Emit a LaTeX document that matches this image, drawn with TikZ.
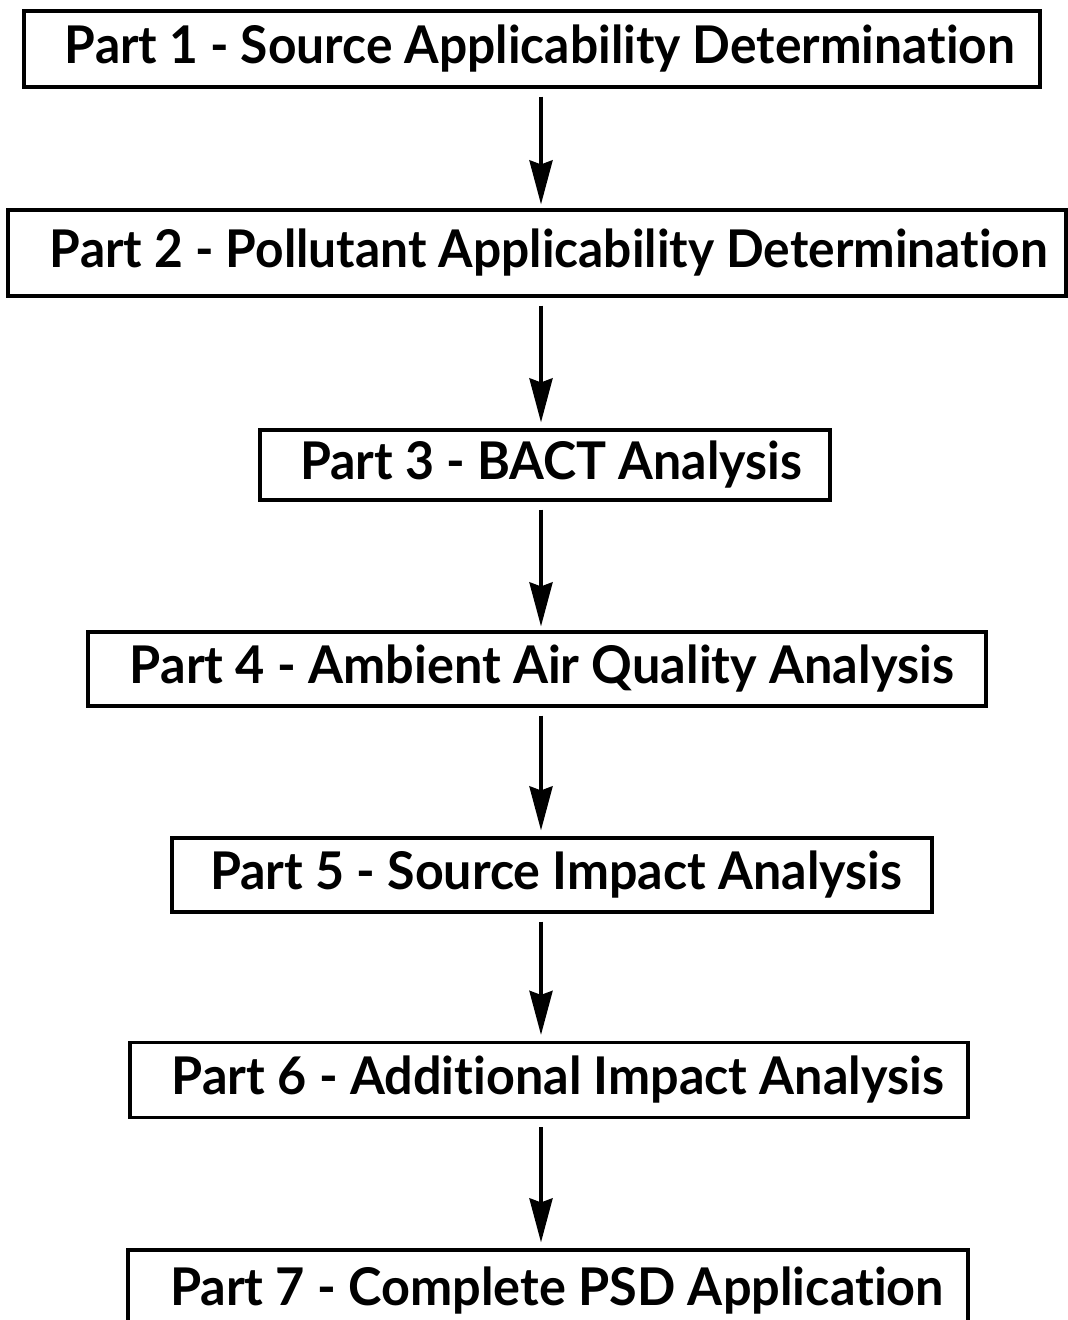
\documentclass[tikz,border=0pt]{standalone}
\usepackage{fontspec}
\setmainfont{Lato}[Ligatures=NoCommon]
\usepackage{graphicx}
\usetikzlibrary{arrows.meta}
\tikzset{
  partbox/.style={draw, line width=1.6pt, rectangle, inner sep=0pt, font=\fontsize{26}{29}\selectfont\bfseries},
  flowarrow/.style={line width=1.9pt, -{Stealth[length=22pt,width=11.5pt,inset=2pt]}}
}
\newcommand{\fitw}[2]{\resizebox{#1pt}{\height}{#2}}
\begin{document}
\begin{tikzpicture}[x=0.5pt,y=-0.5pt]
\clip (0,0) rectangle (1068,1320);
\node[partbox, minimum width=508pt, minimum height=38pt] (b1) at (532,49)
  {\hspace*{8pt}\fitw{475}{Part 1 - Source Applicability Determination}};
\node[partbox, minimum width=529pt, minimum height=43pt] (b2) at (537,253)
  {\hspace*{12pt}\fitw{499}{Part 2 - Pollutant Applicability Determination}};
\node[partbox, minimum width=285pt, minimum height=35pt] (b3) at (545,465)
  {\hspace*{6pt}\fitw{251}{Part 3 - BACT Analysis}};
\node[partbox, minimum width=449pt, minimum height=37pt] (b4) at (537,669)
  {\hspace*{5pt}\fitw{412}{Part 4 - Ambient Air Quality Analysis}};
\node[partbox, minimum width=380pt, minimum height=37pt] (b5) at (552,875)
  {\hspace*{4pt}\fitw{346}{Part 5 - Source Impact Analysis}};
\node[partbox, minimum width=419pt, minimum height=37.5pt] (b6) at (549,1080)
  {\hspace*{9pt}\fitw{386}{Part 6 - Additional Impact Analysis}};
\node[partbox, minimum width=420pt, minimum height=40pt, text depth=0pt] (b7) at (548,1290)
  {\raisebox{4pt}{\hspace*{9pt}\fitw{387}{Part 7 - Complete PSD Application}}};
\coordinate (ax) at (541,0);
\draw[flowarrow, shorten <=4pt, shorten >=2pt] (b1.south -| ax) -- (b2.north -| ax);
\draw[flowarrow, shorten <=4pt, shorten >=3pt] (b2.south -| ax) -- (b3.north -| ax);
\draw[flowarrow, shorten <=4pt, shorten >=2pt] (b3.south -| ax) -- (b4.north -| ax);
\draw[flowarrow, shorten <=4pt, shorten >=3pt] (b4.south -| ax) -- (b5.north -| ax);
\draw[flowarrow, shorten <=4pt, shorten >=3pt] (b5.south -| ax) -- (b6.north -| ax);
\draw[flowarrow, shorten <=4pt, shorten >=3pt] (b6.south -| ax) -- (b7.north -| ax);
\end{tikzpicture}
\end{document}
